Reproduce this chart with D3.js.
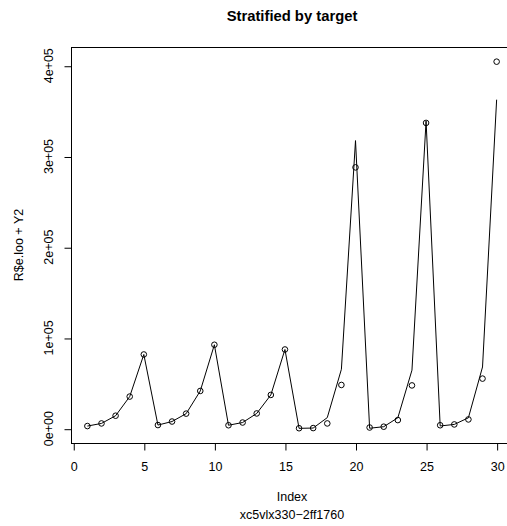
<!DOCTYPE html>
<html>
<head>
<meta charset="utf-8">
<script src="https://cdn.jsdelivr.net/npm/d3@7"></script>
<style>
  body { margin: 0; background: #fff; }
  svg text { font-family: "Liberation Sans", Arial, Helvetica, sans-serif; fill: #000; }
</style>
</head>
<body>
<svg id="chart" width="507" height="526"></svg>
<script>
// Observation index (x) and the two series plotted against it
const index = [1, 2, 3, 4, 5, 6, 7, 8, 9, 10, 11, 12, 13, 14, 15,
               16, 17, 18, 19, 20, 21, 22, 23, 24, 25, 26, 27, 28, 29, 30];
// R$e.loo + Y2 (points)
const observed = [2900, 5800, 14300, 35400, 81800, 4000, 7900, 16600, 41600, 92500,
                  3800, 6800, 16800, 37200, 87300, 500, 700, 5800, 48200, 288000,
                  1300, 2200, 9500, 47700, 337000, 3800, 4700, 10200, 55200, 404500];
// Fitted values (line)
const fitted = [2900, 5800, 14300, 35400, 81800, 4000, 7900, 16600, 41600, 92500,
                3800, 6800, 16800, 37200, 87300, 400, 700, 12200, 65500, 317500,
                500, 2200, 12000, 64500, 339000, 3000, 4700, 12000, 68000, 362600];

const xTicks = [0, 5, 10, 15, 20, 25, 30];
const yTicks = [0, 100000, 200000, 300000, 400000];
const yTickLabels = ["0e+00", "1e+05", "2e+05", "3e+05", "4e+05"];

const titleText = "Stratified by target";
const xLabel = "Index";
const subLabel = "xc5vlx330\u22122ff1760";
const yLabel = "R$e.loo + Y2";

const svg = d3.select("#chart");
svg.append("rect").attr("width", 507).attr("height", 526).attr("fill", "#fff");

const plot = { left: 71, right: 513, top: 47, bottom: 443 };

// R-style 4% padding of the data range on each axis
function padded(ext) {
  const d = (ext[1] - ext[0]) * 0.04;
  return [ext[0] - d, ext[1] + d];
}
const x = d3.scaleLinear()
  .domain(padded(d3.extent(index)))
  .range([plot.left, plot.right]);
const y = d3.scaleLinear()
  .domain(padded(d3.extent(observed.concat(fitted))))
  .range([plot.bottom, plot.top]);

// Plot box
svg.append("rect")
  .attr("x", plot.left + 0.5).attr("y", plot.top + 0.5)
  .attr("width", plot.right - plot.left).attr("height", plot.bottom - plot.top)
  .attr("fill", "none").attr("stroke", "#000").attr("stroke-width", 1);

// X axis
const xAxis = svg.append("g")
  .attr("transform", `translate(0.5,${plot.bottom + 0.5})`)
  .call(d3.axisBottom(x).tickValues(xTicks).tickFormat(d3.format("d"))
        .tickSize(7).tickSizeOuter(0).tickPadding(12));
xAxis.select(".domain").remove();
xAxis.selectAll("line").attr("stroke", "#000");
xAxis.selectAll("text").attr("font-size", 12.5).attr("font-family", null);
svg.append("line")
  .attr("x1", x(xTicks[0]) + 0.5).attr("x2", x(xTicks[xTicks.length - 1]) + 0.5)
  .attr("y1", plot.bottom + 0.5).attr("y2", plot.bottom + 0.5)
  .attr("stroke", "#000");

// Y axis: ticks from the axis generator, labels rotated along the axis
const yAxis = svg.append("g")
  .attr("transform", `translate(${plot.left + 0.5},0.5)`)
  .call(d3.axisLeft(y).tickValues(yTicks).tickFormat("")
        .tickSize(7).tickSizeOuter(0));
yAxis.select(".domain").remove();
yAxis.selectAll("line").attr("stroke", "#000");
svg.append("g").selectAll("text")
  .data(yTicks)
  .join("text")
  .attr("transform", (d) => `translate(53,${y(d)}) rotate(-90)`)
  .attr("text-anchor", "middle")
  .attr("font-size", 12.5)
  .text((d, i) => yTickLabels[i]);

// Fitted line
const line = d3.line()
  .x((d, i) => x(index[i]))
  .y((d) => y(d));
svg.append("path")
  .datum(fitted)
  .attr("d", line)
  .attr("fill", "none")
  .attr("stroke", "#000")
  .attr("stroke-width", 1);

// Observed points
svg.append("g").selectAll("circle")
  .data(observed)
  .join("circle")
  .attr("cx", (d, i) => x(index[i]))
  .attr("cy", (d) => y(d))
  .attr("r", 2.8)
  .attr("fill", "none")
  .attr("stroke", "#000")
  .attr("stroke-width", 1);

// Titles
svg.append("text")
  .attr("x", (plot.left + plot.right) / 2).attr("y", 21)
  .attr("text-anchor", "middle")
  .attr("font-size", 14.8).attr("font-weight", "bold")
  .text(titleText);
svg.append("text")
  .attr("x", (plot.left + plot.right) / 2).attr("y", 501)
  .attr("text-anchor", "middle").attr("font-size", 12.5)
  .text(xLabel);
svg.append("text")
  .attr("x", (plot.left + plot.right) / 2).attr("y", 518.5)
  .attr("text-anchor", "middle").attr("font-size", 12.5)
  .text(subLabel);
svg.append("text")
  .attr("transform", `translate(22.5,${(plot.top + plot.bottom) / 2}) rotate(-90)`)
  .attr("text-anchor", "middle").attr("font-size", 12.5)
  .text(yLabel);
</script>
</body>
</html>
